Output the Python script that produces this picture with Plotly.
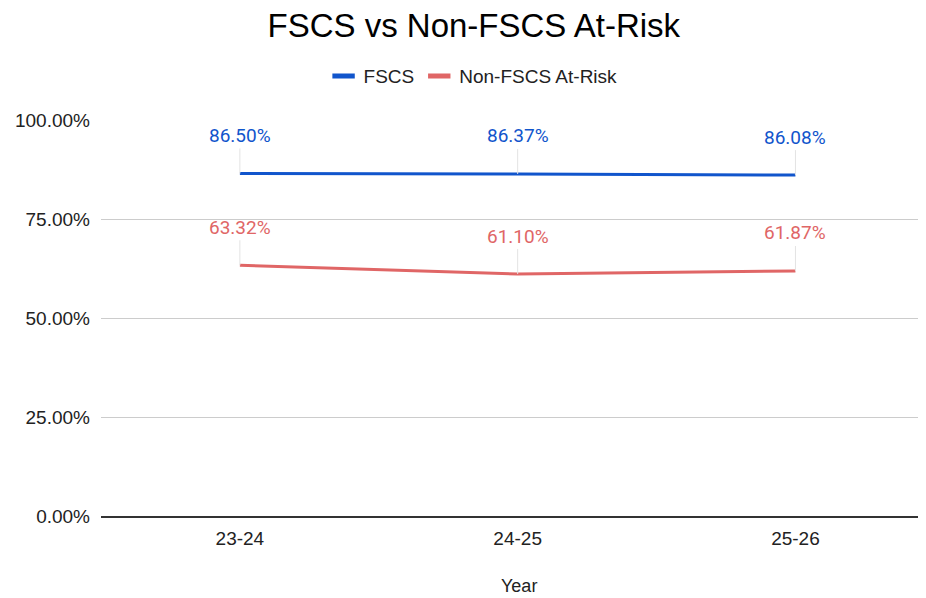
import plotly.graph_objects as go

years = ["23-24", "24-25", "25-26"]
fscs = [86.50, 86.37, 86.08]
non_fscs = [63.32, 61.10, 61.87]
y_ticks = [0, 25, 50, 75, 100]

BLUE = "#1155cc"
RED = "#e06666"

fig = go.Figure()
for name, vals, color in (("FSCS", fscs, BLUE), ("Non-FSCS At-Risk", non_fscs, RED)):
    fig.add_trace(go.Scatter(x=years, y=vals, mode="lines", name=name, showlegend=False,
                             line=dict(color=color, width=3, shape="spline", smoothing=0.3)))
    # legend-only entry with a short thick bar symbol
    fig.add_trace(go.Scatter(x=[None], y=[None], mode="markers", name=name,
                             marker=dict(symbol="line-ew", size=16, color=color,
                                         line=dict(color=color, width=6))))

for series, color in ((fscs, BLUE), (non_fscs, RED)):
    for xv, yv in zip(years, series):
        fig.add_annotation(x=xv, y=yv, xref="x", yref="y", text=f"{yv:.2f}%",
                           showarrow=True, arrowhead=0, arrowwidth=1, arrowcolor="#e3e3e3",
                           ax=0, ay=-38, standoff=0, startstandoff=0,
                           font=dict(family="Roboto", size=19, color=color))

fig.add_annotation(x=0.507, y=-0.206, xref="paper", yref="paper", text="Year",
                   showarrow=False, font=dict(family="Liberation Sans", size=18, color="#222222"))

fig.update_layout(
    width=926, height=598,
    margin=dict(l=93, r=8, t=112, b=90),
    paper_bgcolor="white", plot_bgcolor="white",
    font=dict(family="Liberation Sans", color="#222222"),
    title=dict(text="FSCS vs Non-FSCS At-Risk", x=0.503, xanchor="center",
               y=1 - 17 / 598, yanchor="middle",
               font=dict(family="Liberation Sans", size=33, color="#000000")),
    legend=dict(orientation="h", x=0.451, xanchor="center", y=1.111, yanchor="middle",
                font=dict(family="Liberation Sans", size=19, color="#222222"),
                itemwidth=30, bgcolor="rgba(0,0,0,0)"),
    showlegend=True,
)
fig.update_xaxes(range=[-0.5, 2.47], showgrid=False, showline=True, linecolor="#333333",
                 linewidth=1.5, ticks="", ticklabelstandoff=4,
                 tickfont=dict(family="Liberation Sans", size=19, color="#222222"),
                 fixedrange=True)
fig.update_yaxes(range=[0, 100], tickvals=y_ticks, ticktext=[f"{v:.2f}%" for v in y_ticks],
                 showgrid=True, gridcolor="#cccccc", gridwidth=1, zeroline=False,
                 ticks="", ticklabelstandoff=10,
                 tickfont=dict(family="Liberation Sans", size=19, color="#222222"))

fig.write_html("out.html")
